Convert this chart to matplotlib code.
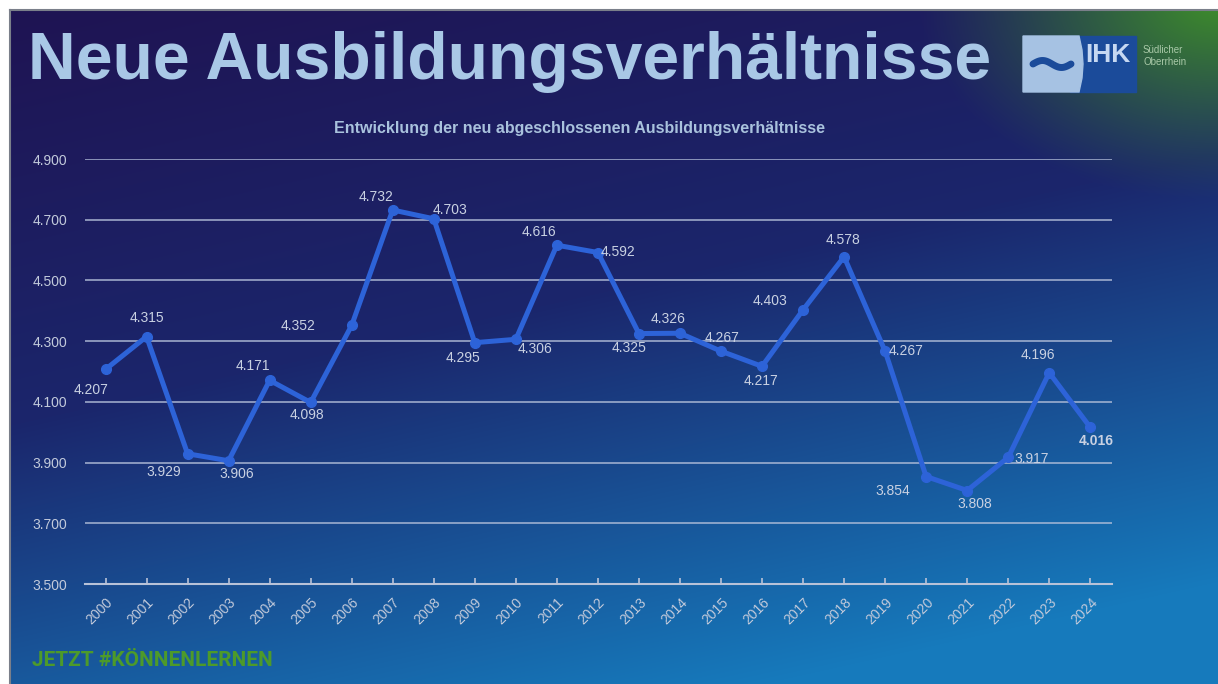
import matplotlib
matplotlib.use('AGG')

import numpy as np
import matplotlib.pyplot as plt
from matplotlib.patches import Polygon, Rectangle

# ---------------------------------------------------------------
# DATA
# ---------------------------------------------------------------
years = list(range(2000, 2025))
values = [4207, 4315, 3929, 3906, 4171, 4098, 4352, 4732, 4703, 4295,
          4306, 4616, 4592, 4325, 4326, 4267, 4217, 4403, 4578, 4267,
          3854, 3808, 3917, 4196, 4016]
ytick_values = [3500, 3700, 3900, 4100, 4300, 4500, 4700, 4900]

title = 'Neue Ausbildungsverhältnisse'
subtitle = 'Entwicklung der neu abgeschlossenen Ausbildungsverhältnisse'
slogan = 'JETZT #KÖNNENLERNEN'

# label offsets (pixels, dx right / dy down) for each data label
label_offsets = [(-14, 21), (0, -19), (-24, 18), (8, 13), (-17, -14),
                 (-4, 13), (-54, 1), (-17, -13), (16, -9), (-12, 15),
                 (19, 10), (-18, -13), (20, 0), (-10, 14), (-12, -14),
                 (1, -13), (-1, 15), (-33, -9), (-1, -17), (21, 0),
                 (-33, 14), (8, 13), (23, 2), (-11, -18), (6, 14)]

def fmt(v):
    return f'{v:,}'.replace(',', '.')

W, H = 1218, 684
plt.rcParams['font.family'] = ['Liberation Sans', 'DejaVu Sans']

fig = plt.figure(figsize=(W / 100, H / 100), dpi=100)

# ---------------------------------------------------------------
# BACKGROUND (slide gradient)
# ---------------------------------------------------------------
xx, yy = np.meshgrid(np.arange(W), np.arange(H))
t = np.clip(0.32 * xx / W + 0.8 * yy / H, 0, 1)
c0 = np.array([31, 19, 82]) / 255
c1 = np.array([27, 38, 108]) / 255
c2 = np.array([22, 122, 188]) / 255
tt = t[..., None]
img = np.where(tt < 0.5, c0 + (c1 - c0) * (tt / 0.5), c1 + (c2 - c1) * ((tt - 0.5) / 0.5))
# green corner top right
d = np.sqrt(((xx - W) / 300.0) ** 2 + (yy / 200.0) ** 2)
g = np.clip(1 - d, 0, 1) ** 1.1
green = np.array([62, 142, 42]) / 255
img = img * (1 - g[..., None]) + green * g[..., None]
# white margin outside slide
img[:10, :, :] = 1.0
img[:, :10, :] = 1.0

bg = fig.add_axes([0, 0, 1, 1])
bg.imshow(img, extent=(0, W, H, 0), aspect='auto', interpolation='bilinear')
bg.plot([10, W], [10, 10], color='#7a7f8a', lw=1.5)
bg.plot([10, 10], [10, H], color='#7a7f8a', lw=1.5)
bg.set_xlim(0, W)
bg.set_ylim(H, 0)
bg.axis('off')

# title and footer
bg.text(28, 62, title, fontsize=47.5, fontweight='bold', color='#a9c8e6',
        ha='left', va='center')
bg.text(32, 661, slogan, fontsize=15, fontweight='bold', color='#4d9a2a',
        family='Roboto', ha='left', va='center')

# IHK logo
bg.add_patch(Rectangle((1070, 36), 66, 56, color='#1b4b9a', zorder=3))
bg.add_patch(Polygon([(1023, 36), (1079, 36), (1082, 50), (1083, 64),
                      (1082, 78), (1079, 92), (1023, 92)],
                     closed=True, color='#a6c2e3', zorder=4))
tx = np.linspace(1033, 1071, 60)
bg.plot(tx, 64 - 3.5 * np.sin((tx - 1033) / 38 * 2 * np.pi), color='#1b4b9a',
        lw=5, solid_capstyle='round', zorder=5)
bg.text(1108, 55, 'IHK', fontsize=19, fontweight='bold', color='#c6d8f2',
        ha='center', va='center', zorder=5)
bg.text(1143, 50, 'Südlicher', fontsize=7, color='#a9c9a8', ha='left', va='center')
bg.text(1143, 62, 'Oberrhein', fontsize=7, color='#a9c9a8', ha='left', va='center')

# ---------------------------------------------------------------
# CHART
# ---------------------------------------------------------------
ax = fig.add_axes([85 / W, 1 - 584 / H, (1112 - 85) / W, (584 - 159) / H])
ax.patch.set_alpha(0)

ax.plot(years, values, color='#2d63d8', lw=3.6, marker='o', markersize=7,
        solid_joinstyle='round', zorder=4)

for i, (yr, v) in enumerate(zip(years, values)):
    dx, dy = label_offsets[i]
    ax.annotate(fmt(v), (yr, v), xytext=(dx, -dy), textcoords='offset pixels',
                ha='center', va='center', fontsize=10, color='#c9d1e2',
                fontweight='bold' if i == len(values) - 1 else 'normal', zorder=5)

ax.set_xlim(1999.5, 2024.53)
ax.set_ylim(3500, 4900)
ax.set_yticks(ytick_values)
ax.set_yticklabels([fmt(v) for v in ytick_values])
ax.set_xticks(years)
ax.set_xticklabels([str(y) for y in years], rotation=45, ha='right',
                   rotation_mode='anchor')
ax.tick_params(axis='y', length=0, pad=13, labelsize=10, labelcolor='#c2cadb')
ax.tick_params(axis='x', direction='in', length=4, width=1.2, color='#b8c2d8',
               pad=8, labelsize=10, labelcolor='#c2cadb')
for s in ['top', 'right', 'left']:
    ax.spines[s].set_visible(False)
ax.spines['bottom'].set_color('#b8c2d8')
ax.spines['bottom'].set_linewidth(1.5)
ax.grid(axis='y', color='#b4c0da', lw=1.2, alpha=0.85, zorder=1)
ax.set_axisbelow(True)

fig.text(580 / W, 1 - 129 / H, subtitle, fontsize=11.5, fontweight='bold',
         color='#a9c2dd', ha='center', va='center')

plt.savefig('out.png', dpi=100)
plt.close(fig)
